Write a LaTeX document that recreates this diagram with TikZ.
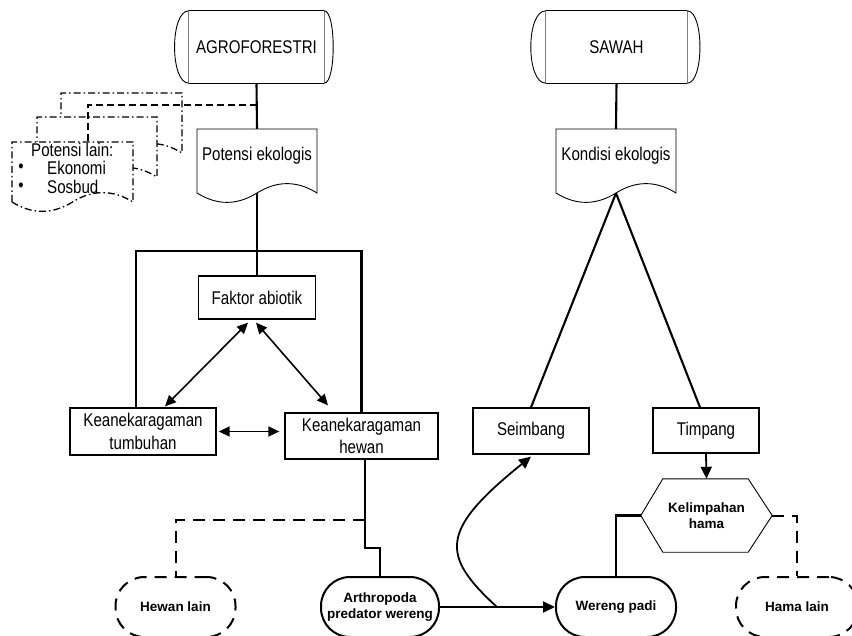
\documentclass[tikz,border=0pt]{standalone}
\usepackage{fontspec}
\setmainfont{Liberation Sans}
\newfontfamily\rsans{Liberation Sans}[FakeStretch=0.82]
\usetikzlibrary{arrows.meta}
\newcommand\regf{\rsans\fontsize{18.4}{22.5}\selectfont}
\newcommand\bldf{\bfseries\fontsize{13.5}{16.5}\selectfont}
% #1 options, #2 left, #3 top, #4 width, #5 height (y grows downward)
\newcommand\docpath[5]{%
 \filldraw[fill=white,#1] (#2,#3+#5) -- (#2,#3) -- (#2+#4,#3) -- (#2+#4,#3+#5)
 .. controls (#2+#4*5/6,#3+#5-12.5) and (#2+#4*2/3,#3+#5-12.5) .. (#2+#4/2,#3+#5)
 .. controls (#2+#4/3,#3+#5+12.5) and (#2+#4/6,#3+#5+12.5) .. (#2,#3+#5) -- cycle;}
\begin{document}
\begin{tikzpicture}[x=1pt,y=-1pt,
 box/.style={draw,line width=1.3pt,align=center,inner sep=0pt,font=\regf},
 term/.style={draw,line width=2pt,rounded corners=29pt,minimum width=120pt,minimum height=60pt,inner sep=0pt,align=center,font=\bldf},
 conn/.style={line width=2.1pt},
 dline/.style={line width=2pt,dash pattern=on 12pt off 8pt},
 arr/.style={line width=1.8pt,-{Triangle[length=12pt,width=11pt]}},
 darr/.style={line width=1.6pt,{Triangle[length=11pt,width=10pt]}-{Triangle[length=11pt,width=10pt]}},
 ddot/.style={line width=1.3pt,dash pattern=on 7pt off 3pt on 1.5pt off 3pt},
 store/.style={inner sep=0pt,font=\regf},
 ]
\fill[white] (0,0) rectangle (852,636);
\useasboundingbox (0,0) rectangle (852,636);

% ---------- storage shapes ----------
\node[store,minimum width=135pt,minimum height=72pt] (agro) at (256.5,47) {AGROFORESTRI};
\draw[line width=0.9pt] (agro.north west) -- (agro.north east) (agro.south west) -- (agro.south east);
\draw[line width=0.9pt,gray] (agro.north west) -- (agro.south west) (agro.north east) -- (agro.south east);
\draw[line width=0.9pt] (agro.north west) .. controls +(-19,0) and +(-19,0) .. (agro.south west);
\draw[line width=0.9pt] (agro.north east) .. controls +(12,0) and +(12,0) .. (agro.south east);

\node[store,minimum width=141pt,minimum height=72pt] (sawah) at (616.5,47) {SAWAH};
\draw[line width=0.9pt] (sawah.north west) -- (sawah.north east) (sawah.south west) -- (sawah.south east);
\draw[line width=0.9pt,gray] (sawah.north west) -- (sawah.south west) (sawah.north east) -- (sawah.south east);
\draw[line width=0.9pt] (sawah.north west) .. controls +(-20,0) and +(-20,0) .. (sawah.south west);
\draw[line width=0.9pt] (sawah.north east) .. controls +(17,0) and +(17,0) .. (sawah.south east);

% ---------- dash-dotted documents ----------
\docpath{ddot}{61}{93}{121}{60}
\docpath{ddot}{37}{117}{120}{60}
\docpath{ddot}{12}{142}{121}{60}
\node[inner sep=0pt,minimum width=121pt,minimum height=60pt] (lain) at (72.5,172) {};
\node[anchor=west,inner sep=0pt,font=\regf] (lain1) at (31,150) {Potensi lain:};
\node[inner sep=0pt,font=\regf] (b1) at (21,168) {•};
\node[anchor=west,inner sep=0pt,font=\regf] (lain2) at (47,168) {Ekonomi};
\node[inner sep=0pt,font=\regf] (b2) at (21,187) {•};
\node[anchor=west,inner sep=0pt,font=\regf] (lain3) at (47,187) {Sosbud};

% ---------- documents ----------
\docpath{line width=0.9pt}{197}{129}{120}{64}
\node[inner sep=0pt,minimum width=120pt,minimum height=64pt] (potd) at (257,161) {};
\node[inner sep=0pt,font=\regf] (pot) at (257,156) {Potensi ekologis};

\docpath{line width=0.9pt}{556}{129}{120}{64}
\node[inner sep=0pt,minimum width=120pt,minimum height=64pt] (kond) at (616,161) {};
\node[inner sep=0pt,font=\regf] (kon) at (616,156) {Kondisi ekologis};

% ---------- boxes ----------
\node[box,minimum width=117pt,minimum height=43pt] (fak) at (257,297.5) {Faktor abiotik};
\node[box,minimum width=146pt,minimum height=47pt] (tum) at (143,431.5) {Keanekaragaman\\tumbuhan};
\node[box,minimum width=153pt,minimum height=46pt] (hew) at (361.5,436) {Keanekaragaman\\hewan};
\node[box,minimum width=116pt,minimum height=46pt] (sei) at (531,431) {Seimbang};
\node[box,minimum width=106pt,minimum height=45pt] (tim) at (706,430.5) {Timpang};

% ---------- hexagon ----------
\node[inner sep=0pt,minimum width=131pt,minimum height=73pt,align=center,font=\bldf] (kel) at (706.5,515.5) {Kelimpahan\\hama};
\draw[line width=0.9pt] (kel.west) -- ([xshift=22pt]kel.north west) -- ([xshift=-24pt]kel.north east)
  -- (kel.east) -- ([xshift=-24pt]kel.south east) -- ([xshift=22pt]kel.south west) -- cycle;

% ---------- terminators ----------
\node[term,dash pattern=on 12pt off 8pt] (hl) at (175.5,607) {Hewan lain};
\node[term,minimum width=118pt] (art) at (380,607) {Arthropoda\\predator wereng};
\node[term] (wp) at (616,607) {Wereng padi};
\node[term,dash pattern=on 12pt off 8pt,minimum width=122pt] (hml) at (797,607) {Hama lain};

% ---------- connectors ----------
\coordinate (aj) at (257,105);
\coordinate (brk) at (257,251);
\coordinate (hj) at (365,520);
\coordinate (cj) at (497,607);

\draw[line width=1.3pt,dash pattern=on 7pt off 4pt] (aj) -| (lain.north -| 88,0);
\draw[conn] (agro.south) -- (potd.north);
\draw[conn] (sawah.south) -- (kond.north);
\draw[conn] (potd.south) -- (fak.north);
\draw[conn] ([xshift=-7pt]tum.north) |- (brk) -| (hew.north);

\draw[darr] ([xshift=22pt,yshift=1pt]tum.north) -- ([xshift=-9pt,yshift=-3pt]fak.south);
\draw[darr] ([xshift=-1pt,yshift=-3pt]fak.south) -- ([xshift=-33.5pt,yshift=7pt]hew.north);
\draw[darr] ([xshift=2pt]tum.east) -- ([xshift=-5pt]hew.west |- tum.east);

\draw[conn] ([xshift=3.5pt]hew.south) -- ++(0,88) -| (art.north);
\draw[dline] (hj) -| (hl.north);

\draw[conn] (kond.south) -- (sei.north);
\draw[conn] (kond.south) -- ([xshift=-6pt]tim.north);
\draw[arr] (tim.south) -- (kel.north);
\draw[conn] (kel.west) -| (wp.north);
\draw[dline] (kel.east) -| (hml.north);

\draw[arr] (art.east) -- (wp.west);
\draw[arr] (cj) .. controls (440,555) and (440,530) .. ([yshift=-2pt]sei.south);
\end{tikzpicture}
\end{document}
